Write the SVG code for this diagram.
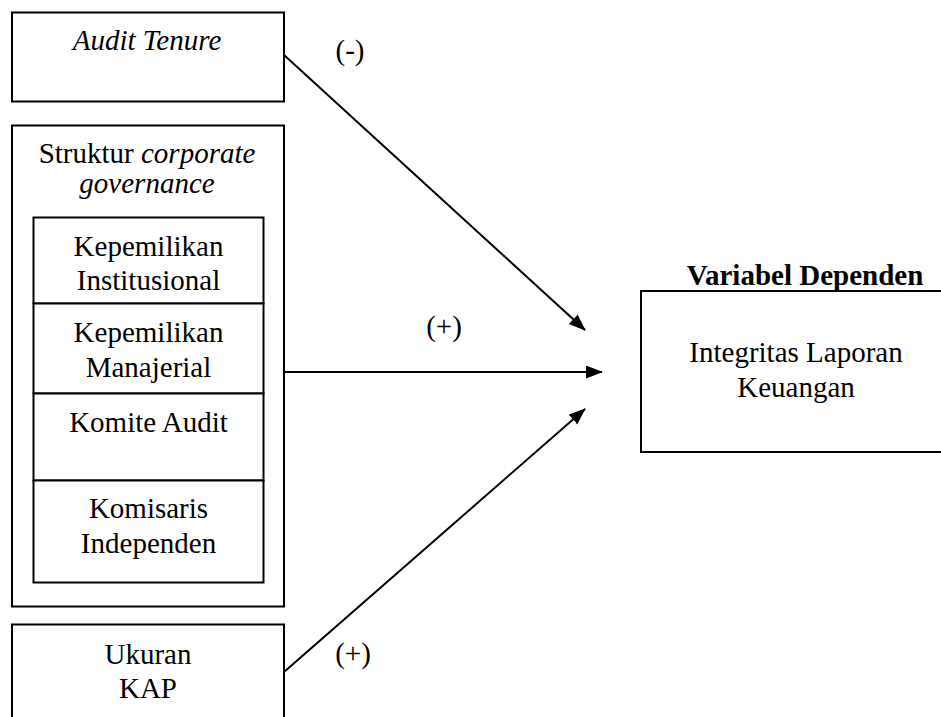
<svg xmlns="http://www.w3.org/2000/svg" width="941" height="717" viewBox="0 0 941 717">
<style>
.box{fill:#fff;stroke:#000;stroke-width:2}
.t{font-family:"Liberation Serif","Times New Roman",serif;font-size:29px;fill:#000;text-anchor:middle}
.i{font-style:italic}
.b{font-weight:bold}
.c{stroke:#000;stroke-width:2;fill:none}
</style>
<defs>
<marker id="ah" markerUnits="userSpaceOnUse" markerWidth="18" markerHeight="14" refX="16" refY="6.5" orient="auto">
<path d="M0,0 L17,6.5 L0,13 Z" fill="#000"/>
</marker>
</defs>
<rect width="941" height="717" fill="#fff"/>
<g id="audit-tenure">
<rect class="box" x="12" y="12.5" width="272" height="89"/>
<text class="t i" x="147" y="50">Audit Tenure</text>
</g>
<g id="corporate-governance">
<rect class="box" x="12" y="125.5" width="272" height="481"/>
<text class="t" x="147" y="163"><tspan>Struktur </tspan><tspan class="i">corporate</tspan></text>
<text class="t i" x="147" y="193">governance</text>
</g>
<g id="kepemilikan-institusional">
<rect class="box" x="33.5" y="217.5" width="230" height="86"/>
<text class="t" x="148.5" y="256">Kepemilikan</text>
<text class="t" x="148.5" y="290">Institusional</text>
</g>
<g id="kepemilikan-manajerial">
<rect class="box" x="33.5" y="303.5" width="230" height="90"/>
<text class="t" x="148.5" y="342">Kepemilikan</text>
<text class="t" x="148.5" y="377">Manajerial</text>
</g>
<g id="komite-audit">
<rect class="box" x="33.5" y="393.5" width="230" height="87"/>
<text class="t" x="148.5" y="432">Komite Audit</text>
</g>
<g id="komisaris-independen">
<rect class="box" x="33.5" y="480.5" width="230" height="102"/>
<text class="t" x="148.5" y="518">Komisaris</text>
<text class="t" x="148.5" y="553">Independen</text>
</g>
<g id="ukuran-kap">
<rect class="box" x="12" y="624.5" width="272" height="110"/>
<text class="t" x="148" y="664">Ukuran</text>
<text class="t" x="148" y="698">KAP</text>
</g>
<g id="integritas">
<text class="t b" x="805" y="285">Variabel Dependen</text>
<rect class="box" x="641" y="291" width="320" height="161"/>
<text class="t" x="796" y="362">Integritas Laporan</text>
<text class="t" x="796" y="397">Keuangan</text>
</g>
<g id="connectors">
<line class="c" x1="284" y1="55" x2="585" y2="330" marker-end="url(#ah)"/>
<line class="c" x1="284" y1="372" x2="602" y2="372" marker-end="url(#ah)"/>
<line class="c" x1="284" y1="672" x2="585" y2="409" marker-end="url(#ah)"/>
<text class="t" x="350" y="60">(-)</text>
<text class="t" x="444" y="336">(+)</text>
<text class="t" x="353" y="663">(+)</text>
</g>
</svg>
